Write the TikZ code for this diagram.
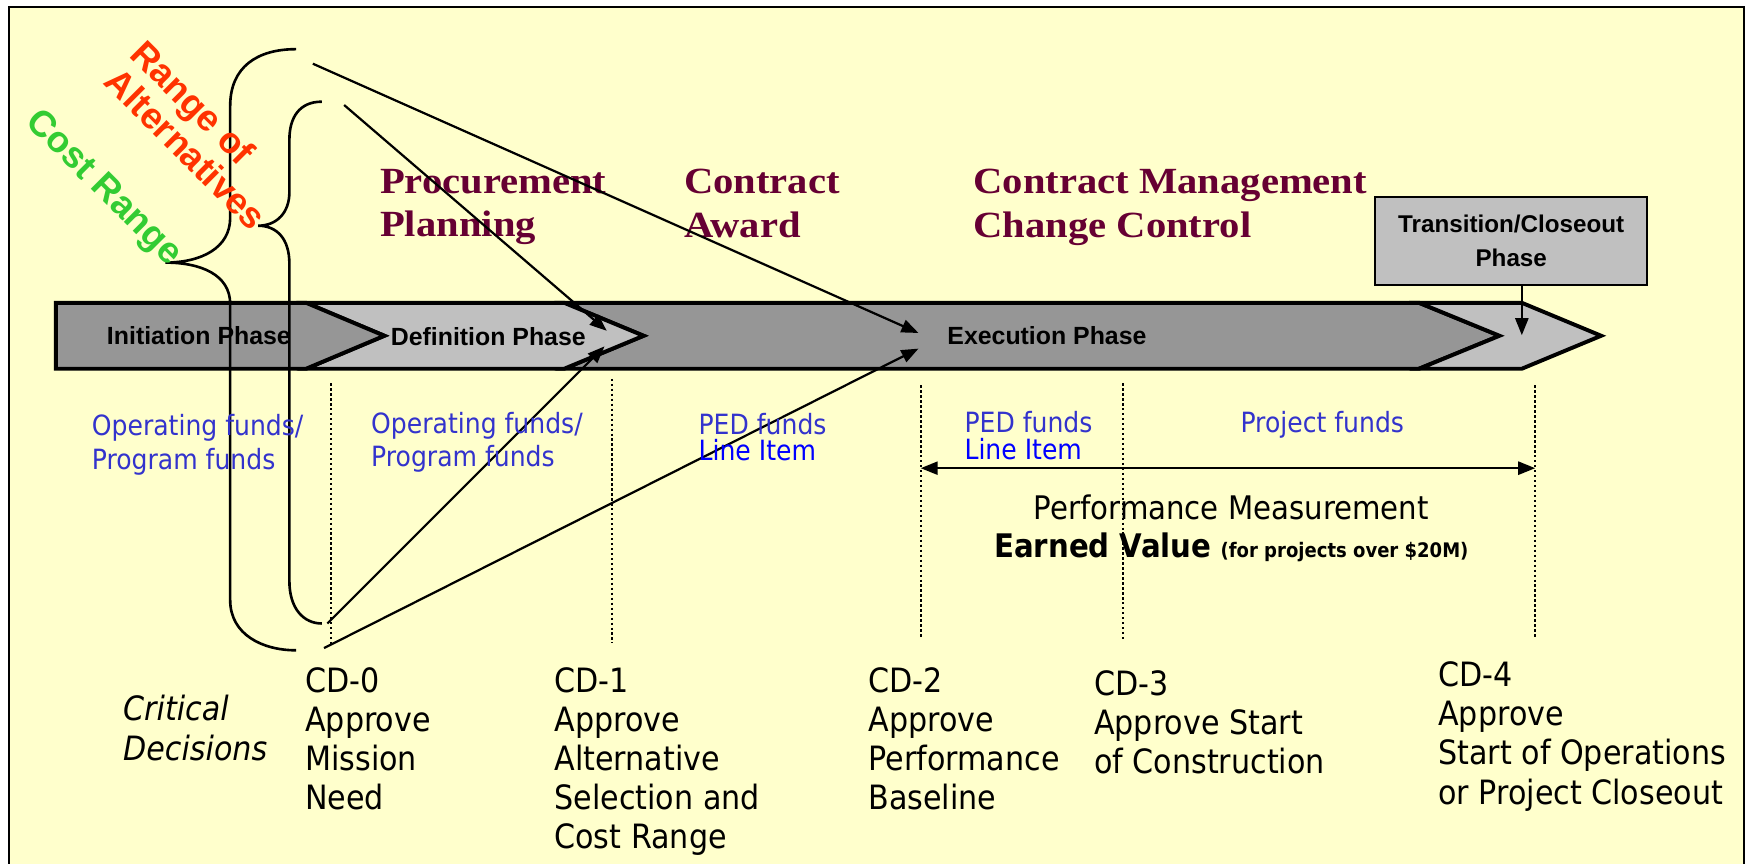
\documentclass[tikz,border=0pt]{standalone}
\usepackage{fontspec}
\setmainfont{Liberation Sans}
\newfontfamily\tah[FakeStretch=0.9]{DejaVu Sans}
\newfontfamily\ser[FakeStretch=1.1]{Liberation Serif}
\usetikzlibrary{arrows.meta}
\definecolor{bgy}{HTML}{FFFFCC}
\definecolor{dgray}{HTML}{969696}
\definecolor{lgray}{HTML}{C0C0C0}
\definecolor{maroon}{HTML}{660033}
\definecolor{fundblue}{HTML}{3333CC}
\definecolor{itemblue}{HTML}{0000FF}
\definecolor{altred}{HTML}{FF3300}
\definecolor{costgreen}{HTML}{33CC33}
\begin{document}
\begin{tikzpicture}[x=0.03cm,y=-0.03cm,
  band/.style={draw=black,line width=3pt,line join=miter},
  tip/.style={Triangle[length=13pt,width=10pt]},
  conn/.style={line width=1.7pt,-{Triangle[length=13pt,width=10pt]}},
  brace/.style={line width=2pt},
  dotline/.style={line width=1.8pt,dash pattern=on 1.8pt off 2pt},
  phase/.style={font=\fontsize{19}{22}\selectfont\bfseries,inner sep=0},
  tbox/.style={draw=black,line width=1.5pt,fill=lgray,minimum width=7.29cm,minimum height=2.37cm,
    align=center,font=\fontsize{18.5}{25.6}\selectfont\bfseries,inner sep=0},
  head/.style={font=\ser\fontsize{28.2}{33.3}\selectfont\bfseries,text=maroon,align=left,anchor=north west,inner sep=0},
  fund/.style={font=\tah\fontsize{21.3}{25.6}\selectfont,text=fundblue,align=left,anchor=north west,inner sep=0},
  cd/.style={font=\tah\fontsize{25.6}{29.9}\selectfont,align=left,anchor=north west,inner sep=0},
  vlabel/.style={font=\fontsize{28}{33}\selectfont\bfseries,anchor=base west,inner sep=0,rotate=-45},
]
\clip (0,0) rectangle (1568,773);
\useasboundingbox (0,0) rectangle (1568,773);
\fill[white] (0,0) rectangle (1568,773);
\draw[line width=1.8pt,fill=bgy] (8,6) rectangle (1561,800);

% band
\draw[band,fill=dgray] (505,271) -- (1270,271) -- (1342,300.5) -- (1270,330) -- (505,330) -- (576,300.5) -- cycle;
\draw[band,fill=lgray] (1270,271) -- (1362,271) -- (1433,300.5) -- (1362,330) -- (1270,330) -- (1342,300.5) -- cycle;
\draw[band,fill=lgray] (274,271) -- (505,271) -- (576,300.5) -- (505,330) -- (274,330) -- (344,300.5) -- cycle;
\draw[band,fill=dgray] (50,271) -- (274,271) -- (344,300.5) -- (274,330) -- (50,330) -- cycle;

\node[phase] (init) at (178,300) {Initiation Phase};
\node[phase] (defn) at (437,301) {Definition Phase};
\node[phase] (exec) at (937,300) {Execution Phase};

\node[tbox] (trans) at (1352.5,215.5) {Transition/Closeout\\Phase};
\coordinate (transTip) at (1362,300);
\draw[conn] (trans.south -| transTip) -- (transTip);

% headings
\node[head] (proc) at (340,151) {Procurement\\Planning};
\node[head] (award) at (612,151) {Contract\\Award};
\node[head] (cmcc) at (871,151) {Contract Management\\Change Control};

% braces
\draw[brace] (265,44) .. controls (230,44) and (206,60) .. (206,95) -- (206,195)
  .. controls (206,222) and (180,235) .. (148,235)
  .. controls (180,235) and (206,246) .. (206,272) -- (206,537)
  .. controls (206,568) and (235,582) .. (265,582);
\draw[brace] (288,91) .. controls (268,91) and (259,105) .. (259,125) -- (259,172)
  .. controls (259,190) and (248,202) .. (231,202)
  .. controls (248,202) and (259,214) .. (259,236) -- (259,520)
  .. controls (259,545) and (272,558) .. (288,558);

\node[vlabel,text=altred] (rng1) at (115,50) {Range of};
\node[vlabel,text=altred] (rng2) at (92,75) {Alternatives};
\node[vlabel,text=costgreen] (cost) at (22,110) {Cost Range};

% connectors
\coordinate (ln1s) at (280,57);  \coordinate (ln1e) at (822,298);
\coordinate (ln2s) at (308,94);  \coordinate (ln2e) at (543,296);
\coordinate (ln3s) at (293,558); \coordinate (ln3e) at (541,310);
\coordinate (ln4s) at (290,580); \coordinate (ln4e) at (822,312);
\draw[conn] (ln1s) -- (ln1e);
\draw[conn] (ln2s) -- (ln2e);
\draw[conn] (ln3s) -- (ln3e);
\draw[conn] (ln4s) -- (ln4e);

% dotted milestones
\draw[dotline] (296,343) -- (296,576);
\draw[dotline] (548,339) -- (548,575);
\draw[dotline] (824,345) -- (824,571);
\draw[dotline] (1005,343) -- (1005,572);
\draw[dotline] (1374,345) -- (1374,570);

% performance arrow
\coordinate (pmL) at (824,419); \coordinate (pmR) at (1374,419);
\draw[line width=1.7pt,{Triangle[length=13pt,width=10pt]}-{Triangle[length=13pt,width=10pt]}] (pmL) -- (pmR);

% funds
\node[fund] (of1) at (82,371) {Operating funds/\\Program funds};
\node[fund,font=\tah\fontsize{21.3}{24.8}\selectfont] (of2) at (332,369) {Operating funds/\\Program funds};
\node[fund,font=\tah\fontsize{21.3}{19.6}\selectfont] (ped1) at (625,370) {PED funds\\\textcolor{itemblue}{Line Item}};
\node[fund,font=\tah\fontsize{21.3}{20.5}\selectfont] (ped2) at (863,368) {PED funds\\\textcolor{itemblue}{Line Item}};
\node[fund] (proj) at (1110,368) {Project funds};

\node[font=\tah\fontsize{24.8}{29}\selectfont,align=center,anchor=north,inner sep=0] (perf) at (1102,443)
  {Performance Measurement\\\textbf{Earned Value} {\bfseries\fontsize{15.3}{18}\selectfont (for projects over \$20M)}};

% critical decisions
\node[cd,font=\tah\itshape\fontsize{25.6}{30.7}\selectfont] (crit) at (110,622) {Critical\\Decisions};
\node[cd] (cd0) at (273,597) {CD-0\\Approve\\Mission\\Need};
\node[cd] (cd1) at (496,597) {CD-1\\Approve\\Alternative\\Selection and\\Cost Range};
\node[cd] (cd2) at (777,597) {CD-2\\Approve\\Performance\\Baseline};
\node[cd] (cd3) at (979,600) {CD-3\\Approve Start\\of Construction};
\node[cd] (cd4) at (1287,592) {CD-4\\Approve\\Start of Operations\\or Project Closeout};
\end{tikzpicture}
\end{document}
